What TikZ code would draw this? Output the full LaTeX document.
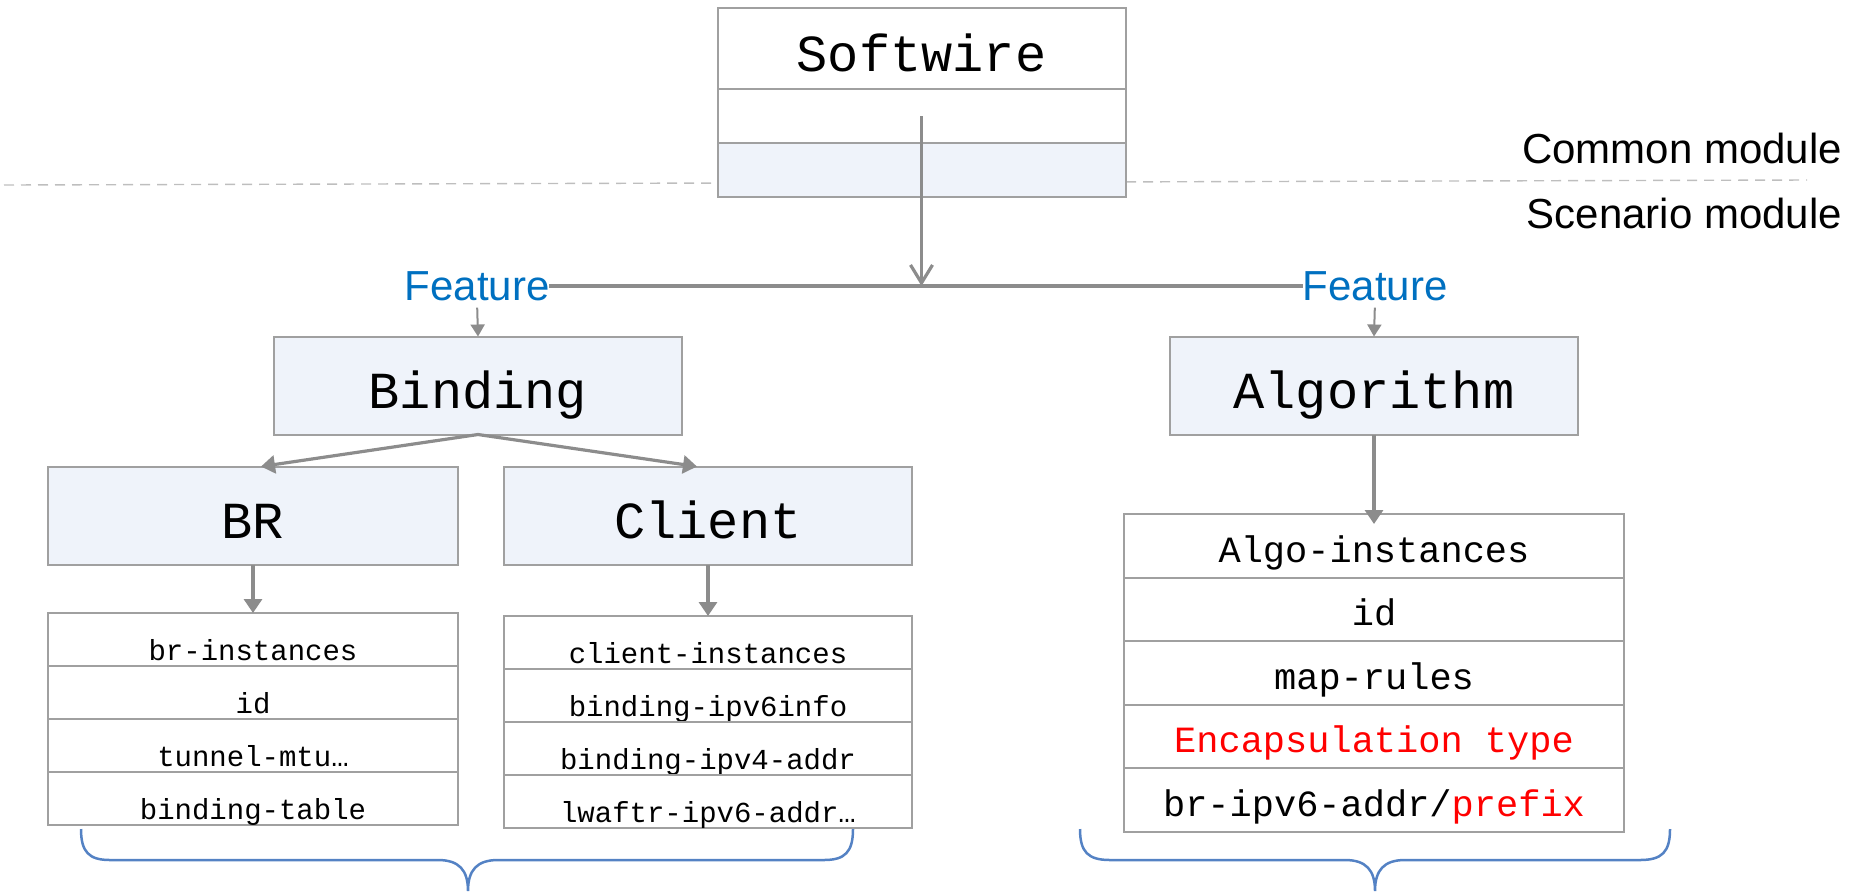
\documentclass[tikz,border=0pt]{standalone}
\usepackage{fontspec}
\setmainfont{Liberation Sans}
\setmonofont{Liberation Mono}
\usetikzlibrary{arrows.meta,positioning}
\definecolor{boxfill}{RGB}{239,243,250}
\definecolor{boxline}{RGB}{160,160,160}
\definecolor{linkgray}{RGB}{140,140,140}
\definecolor{featblue}{RGB}{0,112,192}
\definecolor{bracecol}{RGB}{84,130,196}
\definecolor{dashgray}{RGB}{190,190,190}
\tikzset{x=0.5pt, y=-0.5pt, % one unit is one pixel of the layout
        every node/.style={outer sep=0pt},
        box/.style={ % Sets the properties for every framed box
            draw=boxline, line width=1pt, inner sep=0pt,
            minimum width=204pt, text depth=0pt,
            font=\ttfamily\fontsize{26}{26}\selectfont},
        module/.style={box, fill=boxfill, minimum height=49pt, text height=22.5pt},
        row/.style={ % One line of a list of leaves
            box, fill=white, minimum width=205pt, minimum height=26.5pt,
            text height=21pt, font=\ttfamily\fontsize{14.5}{14.5}\selectfont},
        algorow/.style={row, minimum width=250pt, minimum height=31.75pt,
            text height=16.5pt, font=\ttfamily\fontsize{18.5}{18.5}\selectfont},
        feature/.style={inner sep=0pt, text=featblue, font=\fontsize{21}{21}\selectfont},
        layer/.style={inner sep=0pt, font=\fontsize{21}{21}\selectfont},
        link/.style={ % Sets the properties for each connector
            draw=linkgray, line width=1.6pt,
            -{Triangle[width=9pt,length=7pt]}},
        thinlink/.style={link, line width=1pt, -{Triangle[width=7pt,length=6pt]}},
        brace/.style={draw=bracecol, line width=1.25pt}
        }
\begin{document}
\begin{tikzpicture}
    \useasboundingbox (0,0) rectangle (1850,891);

    % border between the two kinds of module
    \draw[dashgray, line width=0.7pt, dash pattern=on 5pt off 3.5pt] (4,185) -- (1807,180);
    \node[layer, anchor=base east] (common) at (1842,163) {Common module};
    \node[layer, anchor=base east] (scenario) at (1842,228) {Scenario module};

    % common module
    \node[box, fill=white, minimum height=40.5pt, text height=23pt] (softwire) at (921.5,48.5) {Softwire};
    \node[box, fill=white, minimum height=27pt, below=0pt of softwire] (swmid) {};
    \node[box, fill=boxfill, minimum height=27pt, below=0pt of swmid] (swbot) {};

    % features
    \node[feature] (featL) at (477,286) {Feature};
    \node[feature] (featR) at (1375,286) {Feature};
    \draw[linkgray, line width=1.6pt] (featL.east) -- (featR.west);
    \draw[link, -{Straight Barb[width=11pt,length=9pt]}] (swmid.center) -- (swmid.center |- featL.east);

    \node[module] (binding) at (478,385.5) {Binding};
    \node[module] (algorithm) at (1374,385.5) {Algorithm};
    \draw[thinlink, shorten <=3.5pt] (featL.south) -- (binding.north);
    \draw[thinlink, shorten <=3.5pt] (featR.south) -- (algorithm.north);

    \node[module, minimum width=205pt] (br) at (253,515.5) {BR};
    \node[module] (client) at (708,515.5) {Client};
    \draw[link] (binding.south) -- ([xshift=4pt]br.north);
    \draw[link] (binding.south) -- ([xshift=-5.5pt]client.north);

    % BR leaves
    \node[row] (br1) at (253,639.5) {br-instances};
    \node[row, below=0pt of br1] (br2) {id};
    \node[row, below=0pt of br2] (br3) {tunnel-mtu…};
    \node[row, below=0pt of br3] (br4) {binding-table};
    \draw[link] (br.south) -- (br1.north);

    % Client leaves
    \node[row, minimum width=204pt] (cl1) at (708,642.5) {client-instances};
    \node[row, minimum width=204pt, below=0pt of cl1] (cl2) {binding-ipv6info};
    \node[row, minimum width=204pt, below=0pt of cl2] (cl3) {binding-ipv4-addr};
    \node[row, minimum width=204pt, below=0pt of cl3] (cl4) {lwaftr-ipv6-addr…};
    \draw[link] (client.south) -- (cl1.north);

    % Algorithm leaves
    \node[algorow] (algo1) at (1374,545.75) {Algo-instances};
    \node[algorow, below=0pt of algo1] (algo2) {id};
    \node[algorow, below=0pt of algo2] (algo3) {map-rules};
    \node[algorow, below=0pt of algo3, text=red] (algo4) {Encapsulation type};
    \node[algorow, below=0pt of algo4] (algo5) {br-ipv6-addr/\textcolor{red}{prefix}};
    \draw[link, shorten >=-5pt] (algorithm.south) -- (algo1.north);

    % braces
    \draw[brace] (81,829) .. controls (81,852) and (89,860) .. (110,860) -- (438,860)
        .. controls (459,860) and (468,870) .. (468,891)
        .. controls (468,870) and (477,860) .. (498,860) -- (824,860)
        .. controls (845,860) and (853,852) .. (853,829);
    \draw[brace] (1080,829) .. controls (1080,852) and (1088,860) .. (1110,860) -- (1345,860)
        .. controls (1366,860) and (1375,870) .. (1375,891)
        .. controls (1375,870) and (1384,860) .. (1405,860) -- (1640,860)
        .. controls (1662,860) and (1670,852) .. (1670,829);
\end{tikzpicture}
\end{document}
